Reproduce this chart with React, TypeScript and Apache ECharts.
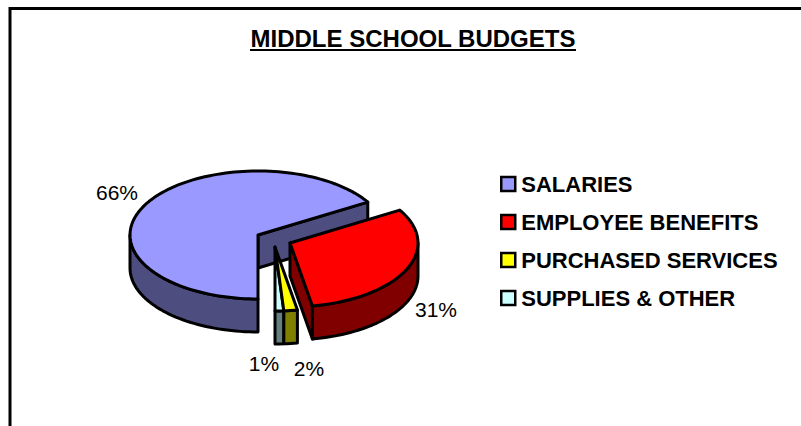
import React, { useEffect, useRef } from "react";
import * as echarts from "echarts";

const categories = ["SALARIES", "EMPLOYEE BENEFITS", "PURCHASED SERVICES", "SUPPLIES & OTHER"];
const shares = [66.4, 30.8, 1.7, 1.1];
const topColors = ["#9999FF", "#FF0000", "#FFFF00", "#CCFFFF"];
const rimColors = ["#4D4D80", "#800000", "#808000", "#668080"];
const titleText = "MIDDLE SCHOOL BUDGETS";

// layout of the tilted pie
const RX = 128;
const RY = 64;
const DEPTH = 33;
const FIRST_ANGLE = 90; // degrees, screen coordinates: 90 = straight down, increasing clockwise
const apexes = [[258, 235], [290, 243], [275, 247], [275, 247]];
const labelPositions = [[117, 192], [436, 309], [309, 368], [264, 363]];
const drawOrder = [0, 3, 2, 1];
const FONT = "Liberation Sans, Arial, sans-serif";

function sliceAngles(index: number, value: number) {
  let start = FIRST_ANGLE;
  for (let i = 0; i < index; i++) start += (shares[i] / 100) * 360;
  return [start, start + (value / 100) * 360];
}

function arc(cx: number, cy: number, a0: number, a1: number, dy = 0) {
  const n = Math.max(2, Math.ceil(Math.abs(a1 - a0) / 2));
  const pts: number[][] = [];
  for (let i = 0; i <= n; i++) {
    const t = ((a0 + ((a1 - a0) * i) / n) * Math.PI) / 180;
    pts.push([cx + RX * Math.cos(t), cy + RY * Math.sin(t) + dy]);
  }
  return pts;
}

function renderSlice(index: number) {
  return (_params: any, api: any) => {
    const value = api.value(0) as number;
    const [a0, a1] = sliceAngles(index, value);
    const [cx, cy] = apexes[index];
    const edge = { stroke: "#000", lineWidth: 3, lineJoin: "round" };
    const rimStyle = { ...edge, fill: rimColors[index] };
    const children: any[] = [];
    const poly = (points: number[][], style: any) =>
      children.push({ type: "polygon", shape: { points }, style });

    // cut face seen from the front
    if (index === 0 || index === 1) {
      const e = arc(cx, cy, a1, a1)[0];
      poly([[cx, cy], e, [e[0], e[1] + DEPTH], [cx, cy + DEPTH]], rimStyle);
    }
    // outer rim: only the part of the arc facing the viewer
    const rimSpans: number[][] = [];
    for (const k of [0, 360]) {
      const lo = Math.max(a0, k);
      const hi = Math.min(a1, k + 180);
      if (hi > lo) rimSpans.push([lo, hi]);
    }
    rimSpans.forEach(([lo, hi]) => {
      const upper = arc(cx, cy, lo, hi);
      const lower = arc(cx, cy, hi, lo, DEPTH);
      poly(upper.concat(lower), rimStyle);
    });
    // top face
    poly([[cx, cy], ...arc(cx, cy, a0, a1)], { ...edge, fill: topColors[index] });
    // value label
    children.push({
      type: "text",
      x: labelPositions[index][0],
      y: labelPositions[index][1],
      style: {
        text: Math.round(value) + "%",
        fill: "#000",
        font: "21px " + FONT,
        align: "center",
        verticalAlign: "middle",
      },
    });
    return { type: "group", children };
  };
}

export default function App() {
  const ref = useRef<HTMLDivElement>(null);
  useEffect(() => {
    const chart = echarts.init(ref.current!, undefined, { renderer: "svg" });
    chart.setOption({
      animation: false,
      backgroundColor: "#fff",
      title: {
        text: titleText,
        left: 408,
        top: 21,
        textAlign: "center",
        textStyle: { fontFamily: FONT, fontSize: 24, fontWeight: "bold", color: "#000" },
      },
      legend: {
        orient: "vertical",
        left: 495,
        top: 168,
        itemWidth: 14,
        itemHeight: 14,
        itemGap: 16,
        icon: "rect",
        selectedMode: false,
        data: categories.map((name, i) => ({
          name,
          itemStyle: { color: topColors[i], borderColor: "#000", borderWidth: 2.5 },
        })),
        textStyle: {
          fontFamily: FONT,
          fontSize: 22,
          fontWeight: "bold",
          color: "#000",
          lineHeight: 21,
          padding: [0, 0, 0, 1],
        },
      },
      graphic: [
        {
          type: "polyline",
          silent: true,
          shape: { points: [[10, 426], [10, 8.5], [801, 8.5]] },
          style: { stroke: "#000", lineWidth: 3, fill: "none" },
        },
        {
          type: "line",
          silent: true,
          shape: { x1: 250, y1: 50, x2: 576, y2: 50 },
          style: { stroke: "#000", lineWidth: 2 },
        },
      ],
      series: drawOrder.map((i) => ({
        type: "custom",
        name: categories[i],
        coordinateSystem: "none",
        silent: true,
        itemStyle: { color: topColors[i] },
        data: [[shares[i]]],
        renderItem: renderSlice(i),
      })),
    });
    return () => chart.dispose();
  }, []);
  return (
    <div
      ref={ref}
      style={{ position: "fixed", left: 0, top: 0, width: 801, height: 426 }}
    />
  );
}
